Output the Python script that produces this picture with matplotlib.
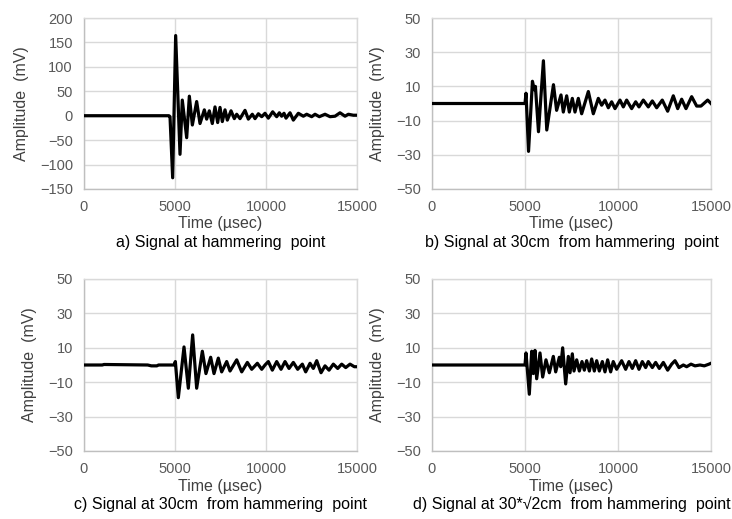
import matplotlib
matplotlib.use("Agg")
import matplotlib.pyplot as plt

plt.rcParams['font.family'] = ['Liberation Sans', 'DejaVu Sans']

# ---- data (time in usec, amplitude in mV) ----
sig_a = [(0, 0), (4670, 0), (4726, -2), (4872, -127), (5036, 164), (5275, -79), (5400, 32),
         (5642, -45), (5788, 40), (5953, -19), (6190, 29), (6374, -16), (6612, 12), (6740, -7),
         (6886, 10), (7050, -16), (7198, 18), (7345, -14), (7473, 17), (7600, -12), (7748, 12),
         (7875, -9), (8078, 10), (8260, -6), (8390, 3), (8572, -6), (8847, 11), (9030, -7),
         (9248, 3), (9397, -6), (9580, 4), (9765, -2), (9946, 5), (10128, -5), (10367, 8),
         (10587, -2), (10733, 6), (10860, -1), (10990, 5), (11100, -5), (11320, 6), (11502, -9),
         (11777, 5), (12052, -1), (12235, 3), (12510, -2), (12694, 3), (12930, -2), (13243, 3),
         (13518, -2), (13793, -1), (14067, 6), (14342, -1), (14525, 3), (14800, 1), (15000, 1)]

sig_b = [(0, 0), (5000, 0), (5054, 6), (5190, -28), (5400, 13), (5500, 8), (5560, 10),
         (5725, -16.5), (5990, 25), (6170, -15.5), (6530, 11), (6700, -4), (6935, 5), (7060, -5),
         (7240, 4.5), (7383, -5), (7544, 3), (7688, -5), (7867, 3), (8046, -6), (8405, 7),
         (8673, -6), (8942, 3), (9121, -1), (9300, 2), (9480, -2.5), (9659, 1), (9838, -3),
         (10107, 2), (10286, -2), (10465, 2), (10734, -3), (10950, 1), (11128, -2), (11360, 2),
         (11630, -2), (11845, 1.5), (12080, -2.5), (12380, 2), (12670, -4.5), (12973, 4.5),
         (13210, -3), (13423, 2.5), (13655, -3), (13960, 4), (14230, -1.5), (14461, -1.5),
         (14820, 2), (15000, 0)]

sig_c = [(0, 0), (1000, 0), (1100, 0.3), (3500, 0), (3700, -0.5), (4000, -0.5), (4100, 0),
         (4946, 0), (5020, 2), (5183, -19), (5495, 10.5), (5732, -13.5), (5970, 17.5),
         (6190, -13.5), (6502, 8), (6700, -5), (6960, 4.5), (7143, -5), (7380, 4), (7564, -4),
         (7840, 2), (8023, -3.5), (8390, 3), (8665, -4), (8975, 1.5), (9215, -2.5), (9525, 1),
         (9765, -2.5), (9946, 0), (10128, 2), (10348, -3), (10587, 2), (10826, -2.5), (11045, 2),
         (11265, -2), (11502, 1.5), (11741, -2.5), (11997, 0.5), (12180, -4), (12419, 1),
         (12600, -2), (12787, 2.5), (13023, -4.5), (13243, -0.5), (13463, -3), (13700, 0.5),
         (13940, -2), (14160, 0.5), (14380, -1.5), (14617, 0.5), (14853, -1), (15000, -1)]

sig_d = [(0, 0), (5000, 0), (5054, 7), (5232, -17), (5360, 8), (5448, -5), (5537, 8.5),
         (5627, -8), (5806, 7), (5950, -7), (6128, 3), (6308, -4.5), (6523, 5), (6650, -4),
         (6845, 4.5), (6920, -1), (7025, 10), (7187, -11), (7330, 5), (7420, -4.5), (7544, 6.5),
         (7634, -3.5), (7778, 3), (7920, -3.5), (8064, 2), (8190, -3), (8315, 2.5), (8460, -3.5),
         (8585, 3.5), (8727, -3.5), (8853, 2.5), (8995, -3.5), (9157, 2), (9300, -4), (9443, 3),
         (9605, -4), (9745, 2), (9928, -2.5), (10196, 2.5), (10411, -2.5), (10590, 2),
         (10770, -2), (10949, 2.5), (11128, -2.5), (11307, 2), (11486, -1.5), (11630, 2),
         (11845, -1.5), (12024, 1.5), (12220, -2), (12437, 1.5), (12670, -3), (12885, 0.5),
         (13064, 2.5), (13280, -1.5), (13512, 0), (13692, -1), (13924, 0.5), (14139, -0.5),
         (14408, 0), (14640, -0.5), (14892, 0.5), (15000, 1)]

x_ticks = [0, 5000, 10000, 15000]
y_ticks_a = [-150, -100, -50, 0, 50, 100, 150, 200]
y_ticks_other = [-50, -30, -10, 10, 30, 50]

captions = ["a) Signal at hammering  point",
            "b) Signal at 30cm  from hammering  point",
            "c) Signal at 30cm  from hammering  point",
            "d) Signal at 30*\u221a2cm  from hammering  point"]
xlabel = "Time (\u00b5sec)"
ylabel = "Amplitude  (mV)"

W, H = 732, 519
fig = plt.figure(figsize=(W / 100, H / 100), dpi=100)

# pixel boxes: left, right, top, bottom
boxes = [(84, 357, 18, 189), (432, 711, 18, 189), (84, 357, 279, 451), (432, 711, 279, 451)]
signals = [sig_a, sig_b, sig_c, sig_d]
yticks_list = [y_ticks_a, y_ticks_other, y_ticks_other, y_ticks_other]

grid_c = '#d9d9d9'
text_c = '#404040'
tick_c = '#595959'

for i, (box, sig, yt, cap) in enumerate(zip(boxes, signals, yticks_list, captions)):
    l, r, t, b = box
    ax = fig.add_axes([l / W, 1 - b / H, (r - l) / W, (b - t) / H])
    ts = [p[0] for p in sig]
    vs = [p[1] for p in sig]
    ax.plot(ts, vs, color='black', lw=2.3, solid_joinstyle='round', zorder=3)
    ax.set_xlim(x_ticks[0], x_ticks[-1])
    ax.set_ylim(yt[0], yt[-1])
    ax.set_xticks(x_ticks)
    ax.set_yticks(yt)
    ax.grid(True, color=grid_c, lw=1.0)
    ax.set_axisbelow(True)
    for s in ax.spines.values():
        s.set_color(grid_c)
        s.set_linewidth(1.0)
    ax.spines['bottom'].set_color('#bfbfbf')
    ax.spines['left'].set_color('#bfbfbf')
    ax.tick_params(length=0, labelsize=10.5, labelcolor=tick_c, pad=8)
    ax.set_ylabel(ylabel, fontsize=11.5, color=text_c, labelpad=8)
    cx = (l + r) / 2 / W
    fig.text(cx, 1 - (b + 35) / H, xlabel, ha='center', va='center', fontsize=11.5, color=text_c)
    fig.text(cx, 1 - (b + 53) / H, cap, ha='center', va='center', fontsize=11.5, color='black')

fig.savefig('out.png', dpi=100)
